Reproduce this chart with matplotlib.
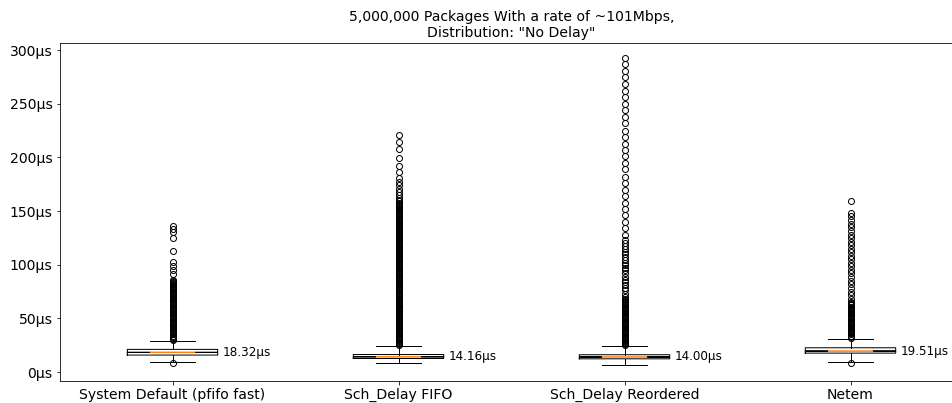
import matplotlib
matplotlib.use("Agg")
import matplotlib.pyplot as plt
from matplotlib.ticker import FuncFormatter

labels = ["System Default (pfifo fast)", "Sch_Delay FIFO", "Sch_Delay Reordered", "Netem"]
medians = [18.32, 14.16, 14.00, 19.51]
q1s = [15.8, 12.6, 12.3, 17.6]
q3s = [21.1, 16.3, 16.1, 22.6]
whis_lo = [9.0, 8.1, 6.5, 9.4]
whis_hi = [29.2, 24.5, 24.2, 30.8]

fliers_default = [8.2,
    30, 31, 32, 33, 34, 35, 36, 37, 38, 39, 40, 41, 42, 43, 44, 45, 46, 47, 48, 49,
    50, 51, 52, 53, 54, 55, 56, 57, 58, 59, 60, 61, 62, 63, 64, 65, 66, 67, 68, 69,
    70, 71, 72, 73, 74, 75, 76, 77, 78, 79, 80, 81, 82, 83, 84, 85, 86,
    91.3, 95.0, 98.8, 102.5, 112.7, 125.1, 130.2, 133.0, 136.0]
fliers_fifo = [
    25, 26, 27, 28, 29, 30, 31, 32, 33, 34, 35, 36, 37, 38, 39, 40, 41, 42, 43, 44,
    45, 46, 47, 48, 49, 50, 51, 52, 53, 54, 55, 56, 57, 58, 59, 60, 61, 62, 63, 64,
    65, 66, 67, 68, 69, 70, 71, 72, 73, 74, 75, 76, 77, 78, 79, 80, 81, 82, 83, 84,
    85, 86, 87, 88, 89, 90, 91, 92, 93, 94, 95, 96, 97, 98, 99, 100, 101, 102, 103,
    104, 105, 106, 107, 108, 109, 110, 111, 112, 113, 114, 115, 116, 117, 118, 119,
    120, 121, 122, 123, 124, 125, 126, 127, 128, 129, 130, 131, 132, 133, 134, 135,
    136, 137, 138, 139, 140, 141, 142, 143, 144, 145, 146, 147, 148, 149, 150, 151,
    152, 153, 154, 155, 156, 157, 158, 159, 160,
    162, 165, 168, 171, 174, 177, 180.5, 186.1, 192.2, 199.7, 207.5, 214.6, 220.8]
fliers_reordered = [
    25, 26, 27, 28, 29, 30, 31, 32, 33, 34, 35, 36, 37, 38, 39, 40, 41, 42, 43, 44,
    45, 46, 47, 48, 49, 50, 51, 52, 53, 54, 55, 56, 57, 58, 59, 60, 61, 62, 63, 64,
    65, 66, 67,
    68, 70, 73, 76, 78, 81, 84, 86, 89, 92, 95, 97, 100, 102, 104, 107, 110, 112,
    115, 117, 120,
    123, 128, 134, 140, 146, 152, 158, 164, 170, 176, 182, 189, 195, 201, 207, 213,
    219, 225, 232, 238, 244, 250, 256, 262, 268, 275, 281, 287, 293]
fliers_netem = [8.8,
    32, 33, 34, 35, 36, 37, 38, 39, 40, 41, 42, 43, 44, 45, 46, 47, 48, 49, 50, 51,
    52, 53, 54, 55, 56, 57, 58, 59, 60, 61, 62, 63, 64, 65,
    68.5, 72, 75, 78.5, 82, 85, 88.5, 92, 95, 98.5, 102, 105, 108.5, 112, 115,
    118.5, 121, 125, 128, 131.5, 135, 138, 141.7, 145.5, 148, 159.8]
fliers = [fliers_default, fliers_fifo, fliers_reordered, fliers_netem]

stats = []
for i in range(len(labels)):
    stats.append(dict(label=labels[i], med=medians[i], q1=q1s[i], q3=q3s[i],
                      whislo=whis_lo[i], whishi=whis_hi[i], fliers=fliers[i],
                      cilo=medians[i] - 0.002, cihi=medians[i] + 0.002))

DPI = 72
fig = plt.figure(figsize=(952 / DPI, 403 / DPI), dpi=DPI)
ax = fig.add_axes([59.5 / 952, 22.3 / 403, 904 / 952, 337.4 / 403])
positions = [1, 2, 3, 4]
ax.bxp(stats, positions=positions, widths=0.4, shownotches=True,
       medianprops=dict(color="#ff7f0e", linewidth=1.5, zorder=3, snap=False))
ax.set_xlim(0.5, 4.5)
ax.set_ylim(-8.1, 306.4)
ax.set_yticks([0, 50, 100, 150, 200, 250, 300])
ax.yaxis.set_major_formatter(FuncFormatter(lambda v, p: f"{v:.0f}\u00b5s"))
ax.tick_params(labelsize=14)
for p, m in zip(positions, medians):
    ax.text(p + 0.22, m, f"{m:.2f}\u00b5s", va="center", ha="left", fontsize=12)
ax.set_title('5,000,000 Packages With a rate of ~101Mbps,\nDistribution: "No Delay"', fontsize=14)
fig.savefig("out.png", dpi=DPI)
